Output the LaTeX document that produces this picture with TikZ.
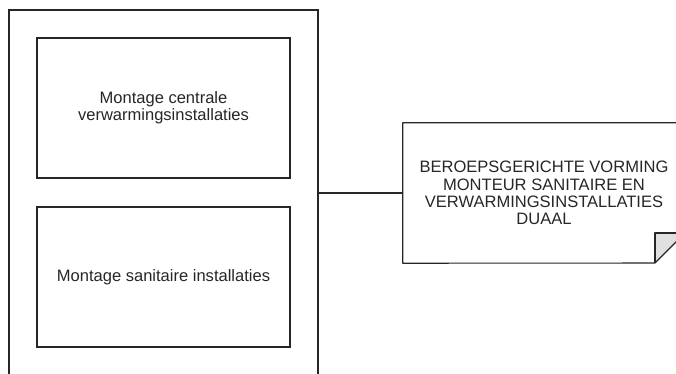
\documentclass[tikz,border=0pt]{standalone}
\usepackage{fontspec}
\setmainfont{Liberation Sans}
\begin{document}
\begin{tikzpicture}[x=0.75pt,y=-0.75pt,
  txt/.style={font=\fontsize{12.4pt}{13pt}\selectfont, text=black!85, align=center},
  box/.style={draw=black!85, line width=0.8pt, minimum width=253*0.75pt, minimum height=140*0.75pt, inner sep=0pt},
  ln/.style={draw=black!85, line width=0.8pt}]
\useasboundingbox (0,0) rectangle (676,374);
\node[box, minimum width=309*0.75pt, minimum height=366*0.75pt] (outer) at (163.5,193) {};
\node[box, txt] (b1) at (163.5,108) {Montage centrale\\verwarmingsinstallaties};
\node[box, txt] (b2) at (163.5,277) {Montage sanitaire installaties};
\node[txt, minimum width=282*0.75pt, minimum height=140*0.75pt, inner sep=0pt] (card) at (544,193) {BEROEPSGERICHTE VORMING\\MONTEUR SANITAIRE EN\\VERWARMINGSINSTALLATIES\\DUAAL};
\coordinate (f1) at (655,263);
\coordinate (f2) at (655,233);
\coordinate (f3) at (685,233);
\fill[black!12] (f1) -- (f2) -- (f3) -- cycle;
\draw[ln, line join=round] (card.north west) -- (card.north east) -- (f3) -- (f1) -- (card.south west) -- cycle;
\draw[ln, line join=round] (f1) -- (f2) -- (f3);
\draw[ln] (outer.east) -- (card.west);
\end{tikzpicture}
\end{document}
